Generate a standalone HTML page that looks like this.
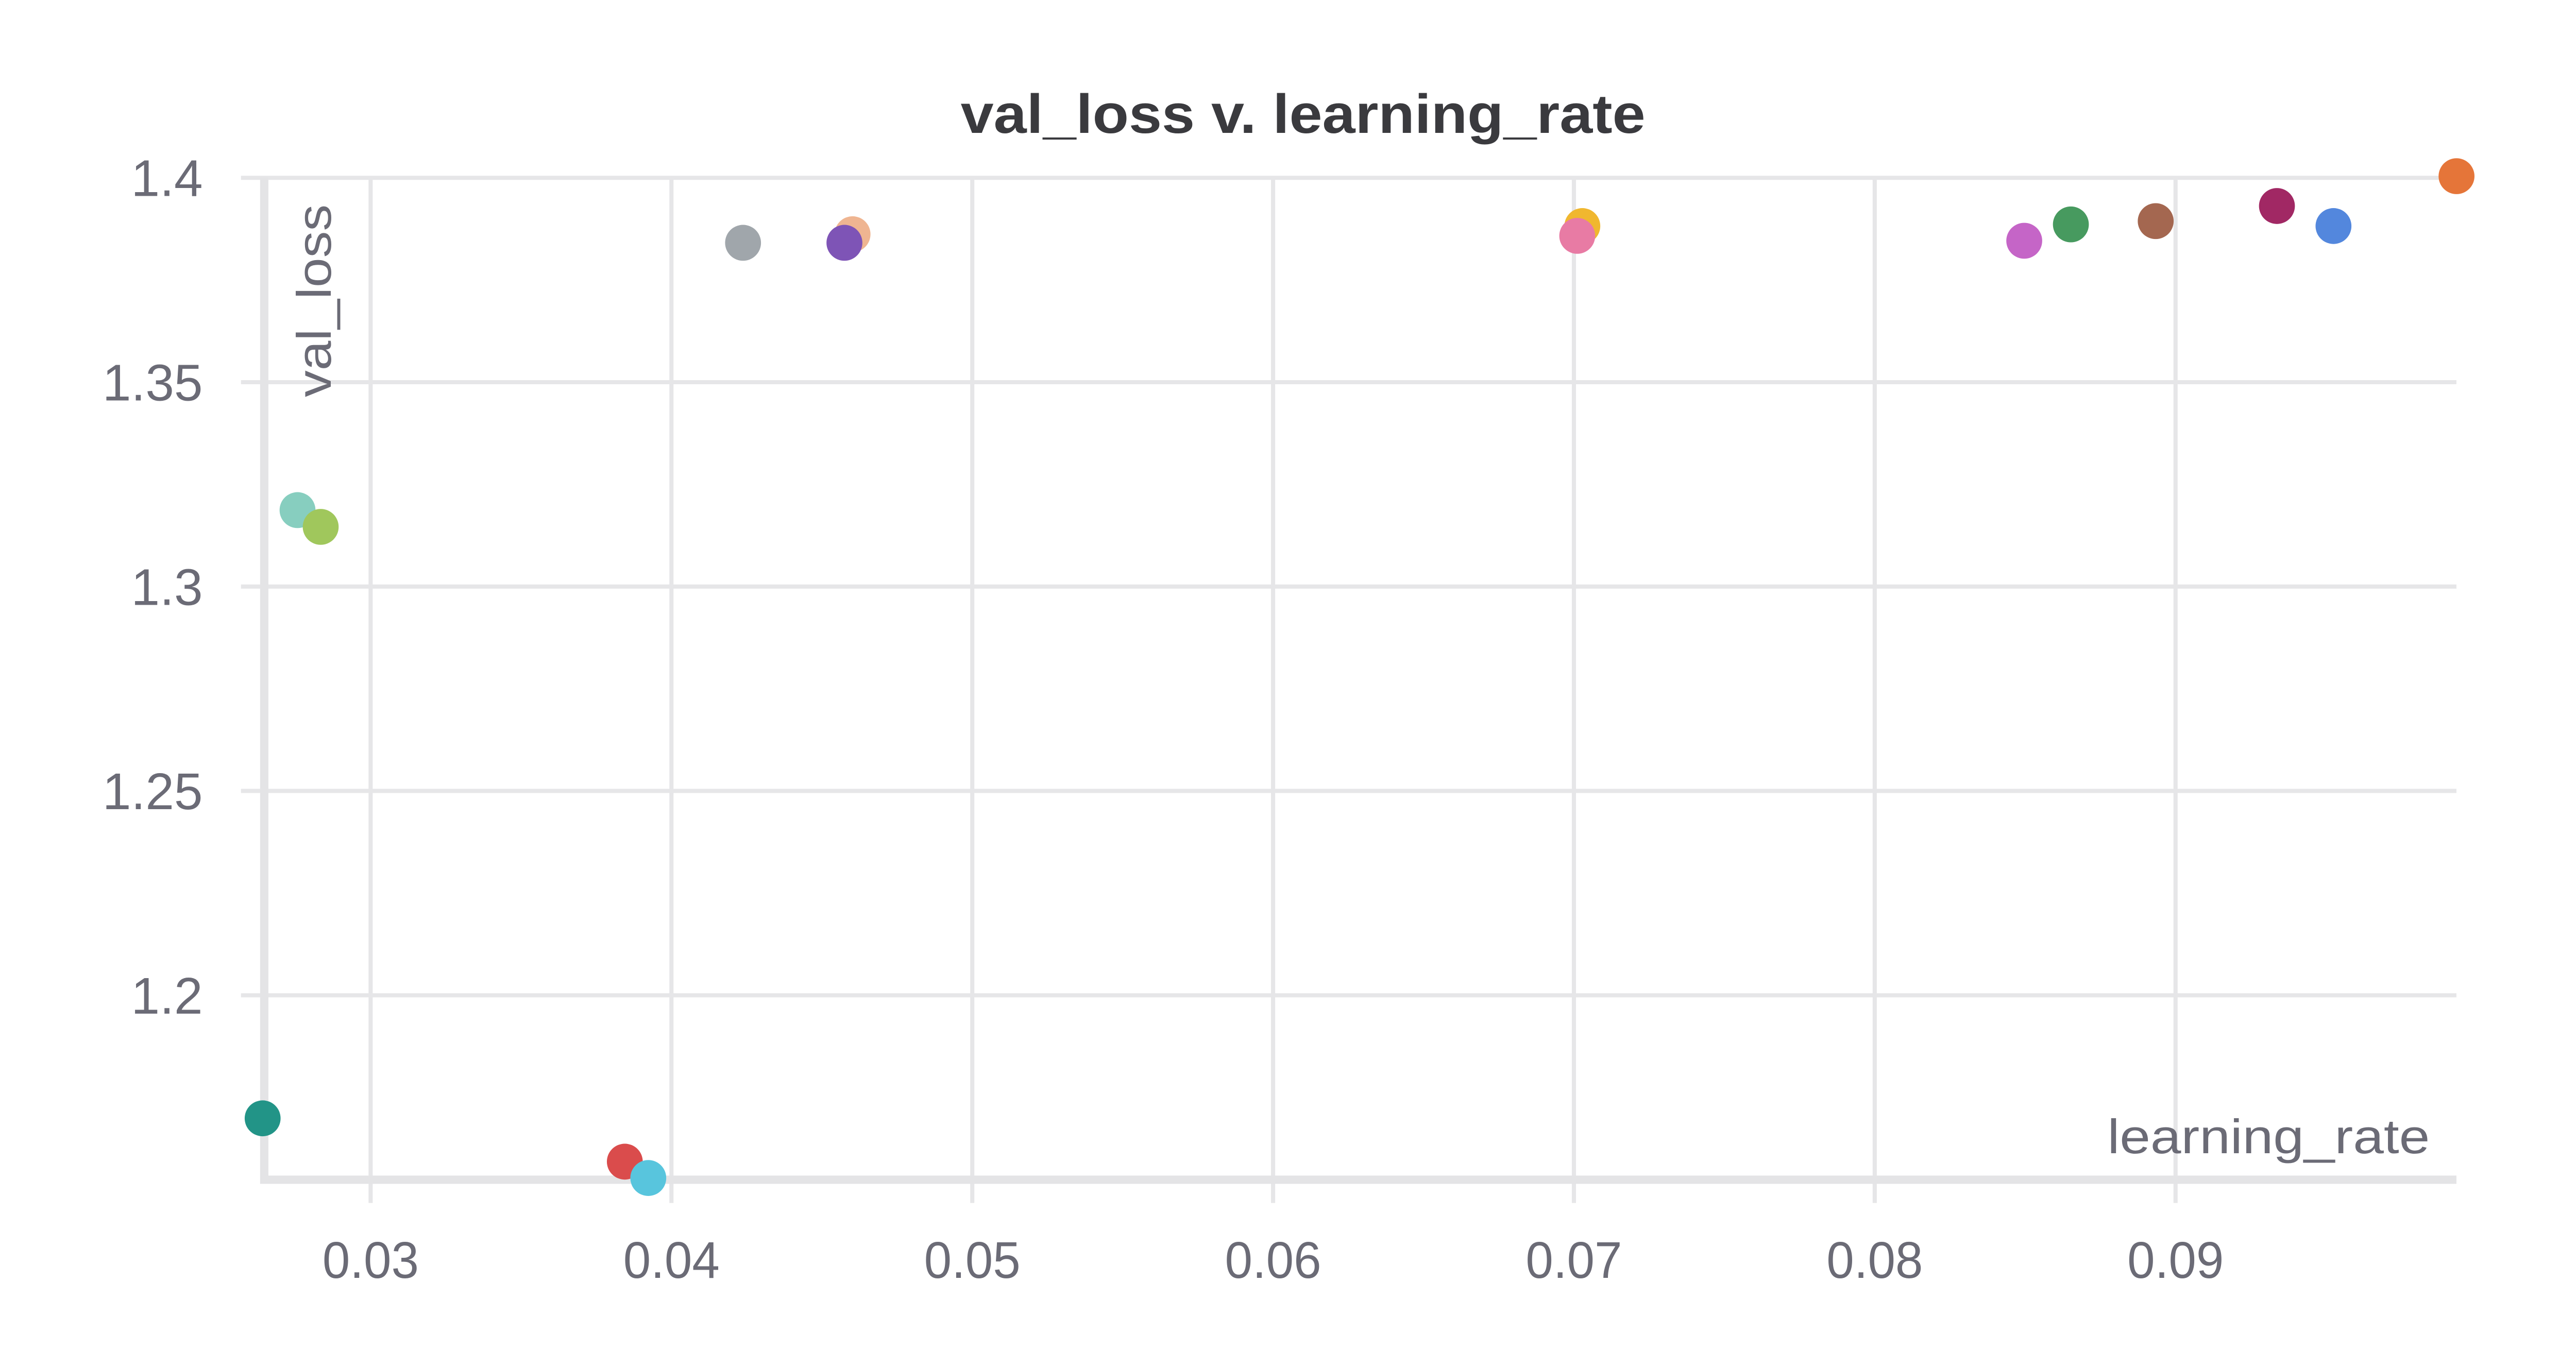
<!DOCTYPE html>
<html><head><meta charset="utf-8"><style>
html,body{margin:0;padding:0;background:#fff;}
svg{display:block;font-family:"Liberation Sans",sans-serif;}
</style></head><body>
<svg id="chart" width="5056" height="2656" viewBox="0 0 1567.3 823.3" xmlns="http://www.w3.org/2000/svg">
<text x="784" y="80" text-anchor="middle" font-size="33" font-weight="bold" fill="#3a3a3e" textLength="412" lengthAdjust="spacingAndGlyphs">val_loss v. learning_rate</text>
<g id="grid"></g>
<g id="axes"></g>
<text transform="translate(199,239) rotate(-90)" font-size="29" fill="#6b6b76" textLength="116" lengthAdjust="spacingAndGlyphs">val_loss</text>
<text x="1462" y="694" text-anchor="end" font-size="29" fill="#6b6b76" textLength="194" lengthAdjust="spacingAndGlyphs">learning_rate</text>
<g id="points"></g>
</svg>
<script>
const xTicks=[0.03,0.04,0.05,0.06,0.07,0.08,0.09];
const xTickLabels=["0.03","0.04","0.05","0.06","0.07","0.08","0.09"];
const yTicks=[1.2,1.25,1.3,1.35,1.4];
const yTickLabels=["1.2","1.25","1.3","1.35","1.4"];
const learningRate=[0.02641,0.02757,0.02834,0.03845,0.03923,0.04238,0.04602,0.04575,0.07028,0.07011,0.08497,0.08652,0.08934,0.09337,0.09525,0.09934];
const valLoss=[1.1699,1.3187,1.3146,1.1593,1.1553,1.3841,1.3862,1.3841,1.3882,1.3858,1.3846,1.3886,1.3894,1.3931,1.3882,1.4004];
const pointColors=["#229487","#87cebf","#a0c75c","#da4c4c","#58c5dd","#a0a6ab","#efb591","#7e54b6","#f0b72f","#e87ba4","#c565c7","#479a5f","#a46750","#a12864","#5387dd","#e57539"];
const NS="http://www.w3.org/2000/svg";
function sx(v){return 223+(v-0.03)*18100;}
function sy(v){return 107+(1.4-v)*2460;}
const L=159,R=1478,T=107,B=710;
const grid=document.getElementById('grid'),axes=document.getElementById('axes'),pts=document.getElementById('points');
function mk(tag,attrs,parent){const e=document.createElementNS(NS,tag);for(const k in attrs)e.setAttribute(k,attrs[k]);parent.appendChild(e);return e;}
xTicks.forEach((t,i)=>{
  const l=mk('line',{x1:sx(t),x2:sx(t),y1:T,y2:724,stroke:'#e6e6e8','stroke-width':2.5},grid);
  
  
  const tx=mk('text',{x:sx(t),y:769,'text-anchor':'middle','font-size':31,fill:'#6b6b76',textLength:58,lengthAdjust:'spacingAndGlyphs'},axes);
  tx.textContent=xTickLabels[i];
  
  
});
yTicks.forEach((t,i)=>{
  const l=mk('line',{x1:145,x2:R,y1:sy(t),y2:sy(t),stroke:'#e6e6e8','stroke-width':2.5},grid);
  
  
  const tx=mk('text',{x:122,y:sy(t)+11,'text-anchor':'end','font-size':31,fill:'#6b6b76'},axes);
  tx.textContent=yTickLabels[i];
  
  
});
const ya=mk('line',{x1:L,x2:L,y1:T,y2:B+2.5,stroke:'#e4e4e6','stroke-width':5},axes);


const xa=mk('line',{x1:L+2.5,x2:R,y1:B,y2:B,stroke:'#e4e4e6','stroke-width':5},axes);


learningRate.forEach((v,i)=>{
  const c=mk('circle',{cx:sx(v),cy:sy(valLoss[i]),r:10.8,fill:pointColors[i]},pts);
  
  
});
</script>
</body></html>
